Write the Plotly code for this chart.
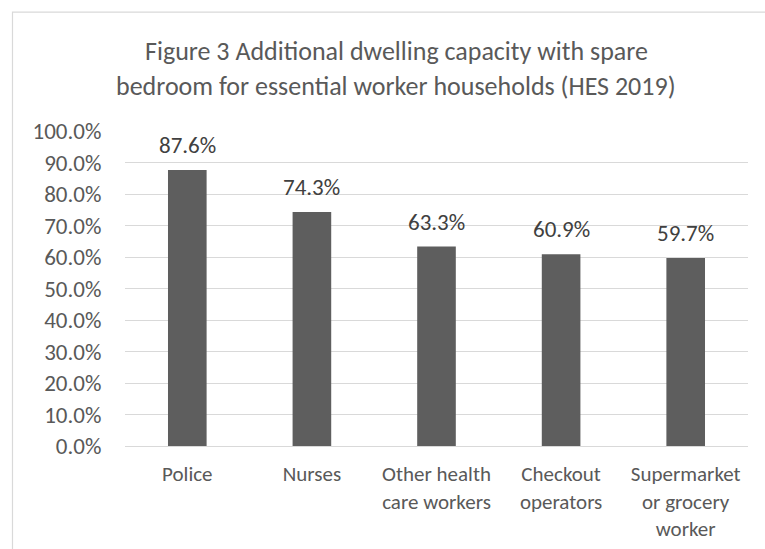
import plotly.graph_objects as go

categories = ["Police", "Nurses", "Other health<br>care workers", "Checkout<br>operators", "Supermarket<br>or grocery<br>worker"]
values = [0.876, 0.743, 0.633, 0.609, 0.597]
title_lines = ["Figure 3 Additional dwelling capacity with spare",
               "bedroom for essential worker households (HES 2019)"]

FONT = "Carlito, Calibri, Lato, sans-serif"
W, H = 765, 549
L, R, T, B = 125, 17, 131, 102.5
pw = W - L - R
ph = H - T - B

def px_x(px):
    return (px - L) / pw

def px_y(py):
    return (H - B - py) / ph

fig = go.Figure()
fig.add_trace(go.Bar(
    x=categories, y=values,
    marker=dict(color="#5e5e5e", line=dict(width=0)),
    width=0.31,
    hoverinfo="skip",
))

annotations = []
for c, v in zip(categories, values):
    annotations.append(dict(
        x=c, y=v, xref="x", yref="y", text=f"{v*100:.1f}%",
        showarrow=False, yanchor="middle", yshift=25,
        font=dict(family=FONT, size=23, color="#404040"),
    ))
for i, (line, py) in enumerate(zip(title_lines, [51, 86])):
    annotations.append(dict(
        x=px_x(396), y=px_y(py), xref="paper", yref="paper", text=line,
        showarrow=False, xanchor="center", yanchor="middle",
        font=dict(family=FONT, size=26, color="#595959"),
    ))

fig.update_layout(
    template="none",
    width=W, height=H,
    margin=dict(l=L, r=R, t=T, b=B, pad=0),
    paper_bgcolor="white", plot_bgcolor="white",
    showlegend=False,
    annotations=annotations,
    font=dict(family=FONT, color="#595959", size=22),
    shapes=[dict(type="rect", xref="paper", yref="paper",
                 x0=px_x(12.5), y0=px_y(600), x1=px_x(800), y1=px_y(12),
                 line=dict(color="#D9D9D9", width=1.2), fillcolor="rgba(0,0,0,0)", layer="below")],
    xaxis=dict(
        automargin=False,
        showgrid=False, zeroline=False, showline=False,
        ticks="outside", ticklen=9, tickcolor="rgba(0,0,0,0)",
        tickfont=dict(family=FONT, size=21, color="#595959"),
        tickangle=0,
    ),
    yaxis=dict(
        automargin=False,
        range=[0, 1], dtick=0.1, tick0=0, tickformat=".1%",
        showgrid=True, gridcolor="#D9D9D9", gridwidth=1.2,
        zeroline=True, zerolinecolor="#D9D9D9", zerolinewidth=1.2,
        showline=False,
        ticks="outside", ticklen=18, tickcolor="rgba(0,0,0,0)",
        tickfont=dict(family=FONT, size=23, color="#595959"),
    ),
)

fig.write_html("out.html", config={"displayModeBar": False},
               post_script="document.body.style.margin='0';document.body.style.overflow='hidden';")
